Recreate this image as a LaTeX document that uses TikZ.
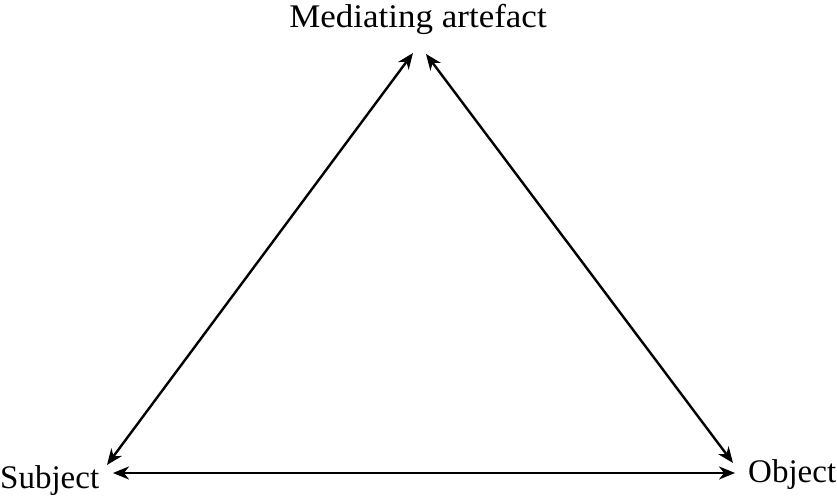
\documentclass[tikz,border=0pt]{standalone}
\usepackage{fontspec}
\setmainfont{Liberation Serif}
\usetikzlibrary{arrows.meta, positioning}

\begin{document}
\begin{tikzpicture}[
    x=1pt, y=1pt,
    label/.style={inner sep=0pt, font=\fontsize{33}{38}\selectfont},
    arrow/.style={{Stealth[length=16pt, width=13pt, inset=5pt]}-{Stealth[length=16pt, width=13pt, inset=5pt]}, line width=2.4pt}
]
\useasboundingbox (0,0) rectangle (837,498);

% Corner labels
\node[label, anchor=base, xscale=1.06] (artefact) at (418,470) {Mediating artefact};
\node[label, anchor=base west] (subject) at (0,10) {Subject};
\node[label, anchor=base west] (object) at (748,16) {Object};

% Arrow ends near the labels
\coordinate (artL) at (413,445);
\coordinate (artR) at (426,444);
\coordinate (subT) at (107,33);
\coordinate (subR) at (113,25);
\coordinate (objL) at (735,25);
\coordinate (objT) at (733,35);

% Triangle sides
\draw[arrow] (subT) -- (artL);
\draw[arrow] (artR) -- (objT);
\draw[arrow] (subR) -- (objL);

\end{tikzpicture}
\end{document}
